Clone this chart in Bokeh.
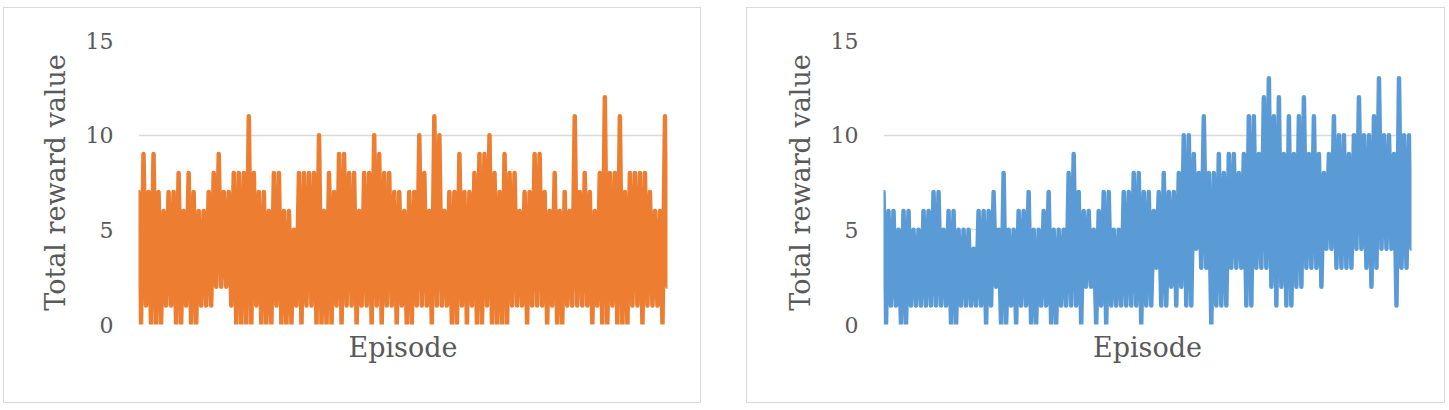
from bokeh.plotting import figure
from bokeh.layouts import row, column
from bokeh.models import Range1d, Spacer, FixedTicker
from bokeh.embed import file_html
from bokeh.resources import INLINE

left_high = [7, 9, 7, 9, 7, 6, 7, 7, 8, 6, 8, 7, 6, 6, 7, 8, 9, 7, 7, 8,
             8, 8, 11, 8, 7, 7, 6, 8, 8, 6, 6, 5, 8, 8, 8, 8, 10, 6, 8, 7,
             9, 9, 8, 8, 6, 8, 8, 10, 9, 8, 8, 7,
             7, 6, 7, 7, 10, 8, 6, 11, 10, 6, 7, 7, 9, 7, 7, 8, 9, 9, 10, 8,
             7, 9, 8, 8, 6, 7, 7, 9, 9, 7, 6, 8, 6, 7, 6, 11, 7, 8, 7, 6,
             8, 12, 8, 8, 11, 7, 8, 8, 8, 8, 7, 6, 6, 11]
left_low = [0, 1, 0, 0, 0, 1, 1, 0, 0, 1, 0, 0, 1, 1, 1, 2, 2, 2, 1, 0,
            0, 0, 0, 1, 0, 0, 0, 1, 0, 0, 0, 1, 0, 1, 1, 0, 0, 0, 0, 1,
            0, 1, 1, 0, 1, 1, 0, 1, 0, 1, 1, 0,
            1, 0, 0, 1, 1, 1, 0, 1, 1, 1, 0, 0, 1, 0, 1, 0, 0, 1, 0, 0,
            0, 0, 1, 1, 1, 0, 1, 1, 1, 0, 1, 0, 0, 1, 1, 1, 1, 1, 0, 1,
            0, 0, 1, 0, 0, 0, 1, 1, 0, 1, 1, 1, 0, 2]
right_high = [7, 6, 6, 5, 6, 6, 5, 5, 6, 6, 7, 7, 5, 6, 6, 5, 5, 5, 4, 6,
              6, 6, 7, 5, 8, 5, 5, 6, 6, 7, 5, 5, 6, 7, 5, 5, 5, 8, 9, 7,
              6, 6, 5, 6, 7, 7, 5, 5, 7, 7, 8, 8,
              7, 7, 6, 7, 8, 7, 7, 8, 10, 10, 9, 8, 11, 8, 8, 9, 8, 9, 9, 8,
              9, 11, 11, 9, 12, 13, 11, 12, 9, 11, 9, 11, 12, 9, 11, 9, 8, 9, 11, 10,
              10, 9, 10, 12, 10, 10, 11, 13, 10, 10, 9, 13, 10, 10]
right_low = [0, 1, 1, 0, 0, 1, 1, 1, 1, 1, 1, 1, 1, 0, 0, 1, 1, 1, 1, 1,
             0, 1, 2, 0, 0, 1, 0, 1, 1, 0, 0, 1, 1, 0, 0, 1, 1, 1, 1, 0,
             2, 2, 0, 1, 0, 1, 1, 1, 1, 1, 1, 0,
             1, 1, 3, 1, 1, 2, 1, 2, 1, 1, 4, 3, 3, 0, 1, 1, 1, 3, 3, 3,
             1, 1, 3, 3, 3, 2, 1, 2, 1, 1, 2, 2, 3, 3, 3, 2, 4, 4, 3, 3,
             3, 3, 4, 4, 3, 2, 3, 4, 4, 4, 1, 3, 3, 4]

y_ticks = [0, 5, 10, 15]
y_label = "Total reward value"
x_label = "Episode"

TEXT = "#595959"
GRID = "#d9d9d9"
FONT = "DejaVu Serif"
HEIGHT = 394


def series(high, low):
    vals = []
    for h, l in zip(high, low):
        vals.append(h)
        vals.append(l)
    return vals


def panel(high, low, color, width, left_border):
    values = series(high, low)
    episodes = list(range(1, len(values) + 1))
    p = figure(width=width, height=HEIGHT, output_backend="svg", toolbar_location=None,
               x_range=Range1d(1, len(values)), y_range=Range1d(0, 15),
               min_border_left=left_border, min_border_right=33,
               min_border_top=32, min_border_bottom=78)
    p.outline_line_color = None
    p.background_fill_color = "white"
    p.border_fill_color = "white"
    p.line(episodes, values, line_color=color, line_width=4.5,
           line_join="round", line_cap="round")

    p.xgrid.visible = False
    p.ygrid.ticker = FixedTicker(ticks=y_ticks)
    p.ygrid.grid_line_color = GRID
    p.ygrid.grid_line_width = 1.5

    ya = p.yaxis[0]
    ya.ticker = FixedTicker(ticks=y_ticks)
    ya.axis_line_color = None
    ya.major_tick_line_color = None
    ya.minor_tick_line_color = None
    ya.major_tick_out = 0
    ya.major_tick_in = 0
    ya.minor_tick_out = 0
    ya.major_label_text_font = FONT
    ya.major_label_text_font_size = "22px"
    ya.major_label_text_color = TEXT
    ya.major_label_standoff = 25
    ya.axis_label = y_label
    ya.axis_label_text_font = FONT
    ya.axis_label_text_font_size = "27px"
    ya.axis_label_text_font_style = "normal"
    ya.axis_label_text_color = TEXT
    ya.axis_label_standoff = 12

    xa = p.xaxis[0]
    xa.ticker = FixedTicker(ticks=[])
    xa.axis_line_color = None
    xa.major_tick_line_color = None
    xa.minor_tick_line_color = None
    xa.major_tick_out = 0
    xa.major_tick_in = 0
    xa.minor_tick_out = 0
    xa.major_label_standoff = 0
    xa.axis_label = x_label
    xa.axis_label_text_font = FONT
    xa.axis_label_text_font_size = "27px"
    xa.axis_label_text_font_style = "normal"
    xa.axis_label_text_color = TEXT
    xa.axis_label_standoff = 7
    return column(p, styles={"border": "1px solid #d9d9d9"})


p1 = panel(left_high, left_low, "#ED7D31", 696, 134)
p2 = panel(right_high, right_low, "#5B9BD5", 697, 136)

layout = column(Spacer(height=7),
                row(Spacer(width=3), p1, Spacer(width=45), p2))

open("out.html", "w").write(file_html(layout, INLINE))
